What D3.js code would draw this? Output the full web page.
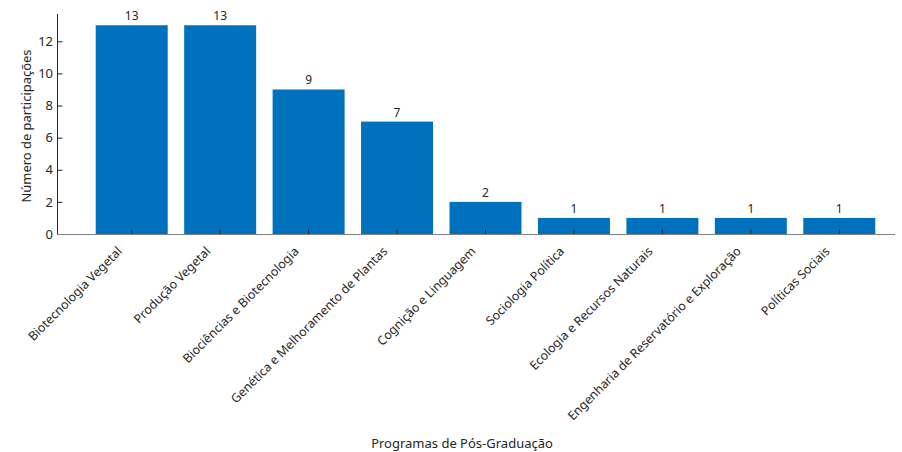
<!DOCTYPE html>
<html>
<head>
<meta charset="utf-8">
<script src="https://cdn.jsdelivr.net/npm/d3@7"></script>
<style>
  body { margin: 0; background: #fff; }
  svg { display: block; font-family: "Noto Sans", sans-serif; }
</style>
</head>
<body>
<svg id="chart" width="902" height="452"></svg>
<script>
const categories = [
  "Biotecnologia Vegetal",
  "Produção Vegetal",
  "Biociências e Biotecnologia",
  "Genética e Melhoramento de Plantas",
  "Cognição e Linguagem",
  "Sociologia Política",
  "Ecologia e Recursos Naturais",
  "Engenharia de Reservatório e Exploração",
  "Políticas Sociais"
];
const values = [13, 13, 9, 7, 2, 1, 1, 1, 1];
const yTicks = [0, 2, 4, 6, 8, 10, 12];
const xTitle = "Programas de Pós-Graduação";
const yTitle = "Número de participações";

const svg = d3.select("#chart");
const textColor = "#262626";
const axisColor = "#808080";

const x = d3.scaleBand().domain(categories).range([87.5, 883.5]).paddingInner(0.186).paddingOuter(0.093);
const y = d3.scaleLinear().domain([0, 13.7]).range([234, 14]);

// bars
svg.append("g").selectAll("rect").data(values).join("rect")
  .attr("x", (d, i) => x(categories[i]))
  .attr("y", d => y(d))
  .attr("width", x.bandwidth())
  .attr("height", d => y(0) - y(d))
  .attr("fill", "#0072BD");

// value labels
svg.append("g").selectAll("text").data(values).join("text")
  .attr("x", (d, i) => x(categories[i]) + x.bandwidth() / 2)
  .attr("y", d => y(d) - 5)
  .attr("text-anchor", "middle")
  .attr("font-size", 12)
  .attr("fill", textColor)
  .text(d => d);

// y axis
const yAxis = d3.axisLeft(y).tickValues(yTicks).tickSize(-5).tickPadding(4.5);
const gy = svg.append("g").attr("transform", "translate(57.5,0)").call(yAxis);
gy.select(".domain").remove();
gy.selectAll(".tick line").attr("stroke", textColor);
gy.selectAll(".tick text").attr("font-size", 13).attr("fill", textColor).attr("font-family", "Noto Sans");
svg.append("line").attr("x1", 57.5).attr("x2", 57.5).attr("y1", 14).attr("y2", 234.5)
  .attr("stroke", textColor).attr("stroke-width", 1);

// x axis
const xAxis = d3.axisBottom(x).tickSize(-5).tickPadding(0);
const gx = svg.append("g").attr("transform", "translate(0,234)").call(xAxis);
gx.select(".domain").remove();
gx.selectAll(".tick line").attr("stroke", textColor);
gx.selectAll(".tick text")
  .attr("font-size", 12.4)
  .attr("font-family", "Noto Sans")
  .attr("fill", textColor)
  .attr("text-anchor", "end")
  .attr("transform", "translate(-12,15) rotate(-45)")
  .attr("dy", "0.35em")
  .attr("y", 0);
svg.append("line").attr("x1", 57).attr("x2", 895).attr("y1", 234.5).attr("y2", 234.5)
  .attr("stroke", axisColor).attr("stroke-width", 1.2);

// titles
svg.append("text").attr("x", 462).attr("y", 448)
  .attr("text-anchor", "middle").attr("font-size", 13).attr("fill", textColor).text(xTitle);
svg.append("text").attr("transform", "translate(31,126) rotate(-90)")
  .attr("text-anchor", "middle").attr("font-size", 13).attr("fill", textColor)
  .attr("textLength", 153).attr("lengthAdjust", "spacingAndGlyphs").text(yTitle);
</script>
</body>
</html>
